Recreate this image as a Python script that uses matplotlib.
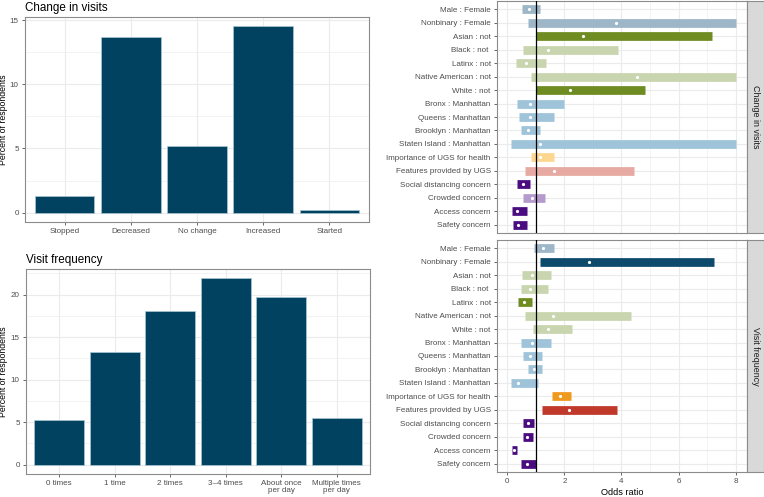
import matplotlib
matplotlib.use("Agg")
import matplotlib.pyplot as plt
import numpy as np

plt.rcParams['font.family'] = ['Liberation Sans', 'DejaVu Sans']

# ---------------- data ----------------
change_cats = ["Stopped", "Decreased", "No change", "Increased", "Started"]
change_vals = [1.29, 13.71, 5.22, 14.51, 0.21]

freq_cats = ["0 times", "1 time", "2 times", "3\u20134 times", "About once\nper day", "Multiple times\nper day"]
freq_vals = [5.2, 13.24, 18.05, 21.91, 19.73, 5.47]

terms = ["Male : Female", "Nonbinary : Female", "Asian : not", "Black : not ", "Latinx : not",
         "Native American : not", "White : not", "Bronx : Manhattan", "Queens : Manhattan",
         "Brooklyn : Manhattan", "Staten Island : Manhattan", "Importance of UGS for health",
         "Features provided by UGS", "Social distancing concern", "Crowded concern",
         "Access concern", "Safety concern"]
groups = ["gender", "gender", "race", "race", "race", "race", "race", "borough", "borough",
          "borough", "borough", "importance", "features", "concern", "concern", "concern", "concern"]

cv_or = [0.77, 3.82, 2.64, 1.41, 0.64, 4.55, 2.20, 0.80, 0.80, 0.71, 1.16, 1.16, 1.63, 0.54, 0.86, 0.34, 0.37]
cv_lo = [0.51, 0.71, 1.02, 0.54, 0.31, 0.84, 1.02, 0.34, 0.40, 0.47, 0.14, 0.84, 0.63, 0.35, 0.56, 0.16, 0.20]
cv_hi = [1.16, 8.00, 7.16, 3.88, 1.35, 8.00, 4.82, 2.00, 1.64, 1.13, 8.00, 1.62, 4.44, 0.80, 1.33, 0.70, 0.70]
cv_sig = [0, 0, 1, 0, 0, 0, 1, 0, 0, 0, 0, 0, 0, 1, 0, 1, 1]

vf_or = [1.25, 2.88, 0.88, 0.81, 0.57, 1.59, 1.42, 0.87, 0.81, 0.93, 0.38, 1.86, 2.15, 0.73, 0.69, 0.23, 0.69]
vf_lo = [0.95, 1.16, 0.51, 0.47, 0.38, 0.61, 0.91, 0.49, 0.55, 0.72, 0.14, 1.57, 1.21, 0.56, 0.54, 0.15, 0.49]
vf_hi = [1.64, 7.25, 1.53, 1.43, 0.87, 4.32, 2.26, 1.54, 1.22, 1.22, 1.07, 2.24, 3.83, 0.94, 0.91, 0.33, 1.00]
vf_sig = [0, 1, 0, 0, 1, 0, 0, 0, 0, 0, 0, 1, 1, 1, 1, 1, 1]

panels = ["Change in visits", "Visit frequency"]

# colours: (not significant, significant)
group_colors = {
    "gender": ("#9db6c8", "#0d4a6c"),
    "race": ("#c9d5ae", "#6f8c22"),
    "borough": ("#9fc4d9", "#2f6f95"),
    "importance": ("#fdd68f", "#f0991f"),
    "features": ("#e7aaa3", "#c0392b"),
    "concern": ("#b59bcd", "#4a0c80"),
}

BAR = "#00425f"
GRID = "#ebebeb"
FRAME = "#8c8c8c"
TICK = "#4d4d4d"

W, H = 764, 497
fig = plt.figure(figsize=(W / 100, H / 100), dpi=100)


def add_ax(l, t, r, b):
    return fig.add_axes([l / W, 1 - b / H, (r - l) / W, (b - t) / H])


def style(ax):
    for s in ax.spines.values():
        s.set_color(FRAME)
        s.set_linewidth(0.8)
    ax.tick_params(colors=TICK, labelsize=5.8, length=2.5, width=0.6, pad=2)
    for lab in ax.get_xticklabels() + ax.get_yticklabels():
        lab.set_color(TICK)
    ax.set_axisbelow(True)


def bar_panel(ax, cats, vals, title, yticks, left_px):
    x = np.arange(len(cats))
    ax.bar(x, vals, width=0.9, color=BAR, edgecolor="#a9c7d6", linewidth=0.5, zorder=3)
    top = max(vals)
    ax.set_ylim(-0.05 * top, 1.05 * top)
    ax.set_xlim(-0.6, len(cats) - 0.4)
    ax.set_xticks(x)
    ax.set_xticklabels(cats, linespacing=0.95)
    ax.set_yticks(yticks)
    minor = [(a + b) / 2 for a, b in zip(yticks[:-1], yticks[1:])]
    minor.append(yticks[-1] + (yticks[1] - yticks[0]) / 2)
    ax.set_yticks([m for m in minor if m < 1.05 * top], minor=True)
    ax.tick_params(axis="y", which="minor", length=0)
    ax.grid(True, which="major", color=GRID, linewidth=0.8)
    ax.grid(True, which="minor", axis="y", color=GRID, linewidth=0.4)
    ax.set_ylabel("Percent of respondents", fontsize=6.3, color="black")
    ax.yaxis.set_label_coords(-(left_px - 8.0) / 344.0, 0.5)
    ax.set_title(title, loc="left", fontsize=8.4, color="black", pad=4, x=0.0)
    style(ax)


ax1 = add_ax(25, 17, 369, 222)
bar_panel(ax1, change_cats, change_vals, "Change in visits", [0, 5, 10, 15], 25)

ax2 = add_ax(26, 269, 370, 474)
bar_panel(ax2, freq_cats, freq_vals, "Visit frequency", [0, 5, 10, 15, 20], 26)


def or_panel(ax, ors, los, his, sigs, show_x):
    y = np.arange(len(terms))
    for yi, o, lo, hi, g, sig in zip(y, ors, los, his, groups, sigs):
        c = group_colors[g][1 if sig else 0]
        ax.plot([lo, hi], [yi, yi], color=c, linewidth=6.3, solid_capstyle="butt", zorder=3)
        ax.plot([o], [yi], marker="o", color="white", markersize=2.3, markeredgewidth=0, zorder=4)
    ax.axvline(1.0, color="black", linewidth=0.9, zorder=5)
    ax.set_xlim(-0.36, 8.4)
    ax.set_ylim(len(terms) - 0.4, -0.6)
    ax.set_yticks(y)
    ax.set_yticklabels(terms)
    ax.set_xticks([0, 2, 4, 6, 8])
    ax.set_xticks([1, 3, 5, 7], minor=True)
    ax.tick_params(axis="x", which="minor", length=0)
    ax.grid(True, which="major", color=GRID, linewidth=0.8)
    ax.grid(True, which="minor", axis="x", color=GRID, linewidth=0.4)
    if show_x:
        ax.set_xlabel("Odds ratio", fontsize=6.6, color="black", labelpad=2)
    style(ax)
    if not show_x:
        ax.tick_params(axis="x", which="both", length=0, labelbottom=False)


ax3 = add_ax(497, 1, 747, 233)
or_panel(ax3, cv_or, cv_lo, cv_hi, cv_sig, False)
ax4 = add_ax(497, 240, 747, 472)
or_panel(ax4, vf_or, vf_lo, vf_hi, vf_sig, True)

for (t, b), lab in zip([(1, 233), (240, 472)], panels):
    sax = add_ax(747, t, 764, b)
    sax.set_facecolor("#d9d9d9")
    sax.set_xticks([])
    sax.set_yticks([])
    for s in sax.spines.values():
        s.set_color(FRAME)
        s.set_linewidth(0.8)
    sax.text(0.5, 0.5, lab, rotation=-90, ha="center", va="center", fontsize=6.4,
             color="#1a1a1a", transform=sax.transAxes)

fig.savefig("out.png", dpi=100)
